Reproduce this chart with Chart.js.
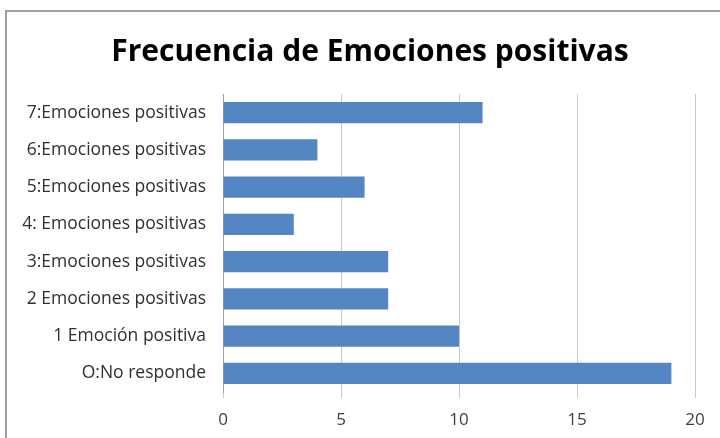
<!DOCTYPE html>
<html><head><meta charset="utf-8">
<script src="https://cdn.jsdelivr.net/npm/chart.js@4"></script>
<style>
html,body{margin:0;padding:0;background:#fff;}
#wrap{position:relative;width:720px;height:438px;}
#frame{position:absolute;left:5px;top:10px;width:740px;height:460px;border-left:2px solid #a0a0a0;border-top:2px solid #a0a0a0;}
canvas{position:absolute;left:0;top:0;}
</style></head>
<body><div id="wrap"><div id="frame"></div><canvas id="c" width="720" height="438"></canvas></div>
<script>
const categories = ["7:Emociones positivas","6:Emociones positivas","5:Emociones positivas","4: Emociones positivas","3:Emociones positivas","2 Emociones positivas","1 Emoción positiva","O:No responde"];
const frecuencia = [11, 4, 6, 3, 7, 7, 10, 19];
const xTicks = [0, 5, 10, 15, 20];
const titleText = "Frecuencia de Emociones positivas";

const titlePlugin = {
  id: 'offsetTitle',
  afterDraw(chart) {
    const ctx = chart.ctx;
    ctx.save();
    ctx.font = 'bold 30px "Open Sans"';
    ctx.fillStyle = '#000';
    ctx.textAlign = 'center';
    ctx.textBaseline = 'middle';
    ctx.fillText(titleText, 370, 52);
    ctx.restore();
  }
};

new Chart(document.getElementById('c'), {
  type: 'bar',
  data: { labels: categories, datasets: [{ data: frecuencia, backgroundColor: '#5586C4', borderWidth: 0, categoryPercentage: 1, barPercentage: 0.57 }] },
  plugins: [titlePlugin],
  options: {
    indexAxis: 'y', responsive: false, animation: false,
    layout: { padding: { left: 0, right: 25, top: 94, bottom: 0 } },
    plugins: { legend: { display: false }, tooltip: { enabled: false }, title: { display: false } },
    scales: {
      x: {
        min: xTicks[0], max: xTicks[xTicks.length-1],
        afterBuildTicks: s => { s.ticks = xTicks.map(v => ({ value: v })); },
        grid: { color: '#c8c8c8', lineWidth: 1, drawTicks: true, tickLength: 6 },
        border: { display: false },
        ticks: { color: '#404040', font: { family: 'Open Sans', size: 17 }, padding: 12 },
        afterFit: s => { s.height = 46; }
      },
      y: {
        grid: { display: false, drawTicks: false },
        border: { display: true, color: '#a0a0a0', width: 1 },
        ticks: { color: '#303030', font: { family: 'Open Sans', size: 17.5 }, padding: 17 },
        afterFit: s => { s.width = 223; }
      }
    }
  }
});
</script></body></html>
